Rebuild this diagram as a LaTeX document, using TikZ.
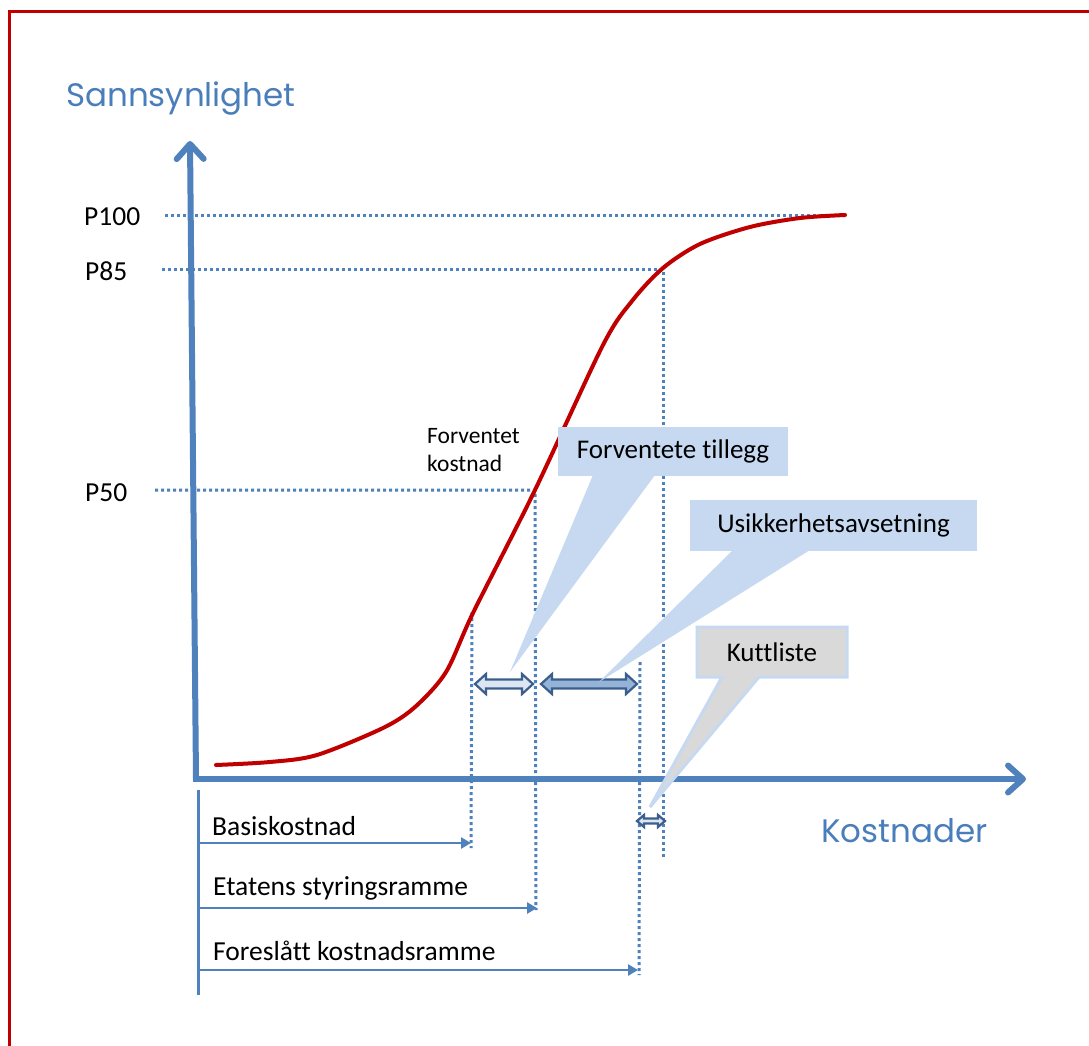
\documentclass[tikz,border=0pt]{standalone}
\usepackage{fontspec}
\setmainfont{Carlito}[Ligatures=NoCommon]
\newfontfamily\geofont{Poppins}
\usetikzlibrary{arrows.meta}
\definecolor{axisblue}{HTML}{4F81BD}
\definecolor{titleblue}{HTML}{4A7EBB}
\definecolor{curvered}{HTML}{C00000}
\definecolor{calloutblue}{HTML}{C6D9F1}
\definecolor{calloutgray}{HTML}{D9D9D9}
\definecolor{arrowedge}{HTML}{3B5E8C}
\definecolor{arrowlight}{HTML}{DCE6F2}
\definecolor{arrowmid}{HTML}{95B3D7}

% horizontal block arrow with heads at both ends:
% x1, x2, y, half head height, half shaft height, head length, fill
\newcommand\dblarrow[7]{%
  \filldraw[draw=arrowedge, line width=2.2pt, line join=miter, fill=#7]
    (#1,#3) -- ({#1+#6},{#3-#4}) -- ({#1+#6},{#3-#5}) -- ({#2-#6},{#3-#5})
    -- ({#2-#6},{#3-#4}) -- (#2,#3) -- ({#2-#6},{#3+#4}) -- ({#2-#6},{#3+#5})
    -- ({#1+#6},{#3+#5}) -- ({#1+#6},{#3+#4}) -- cycle;}

\begin{document}
\begin{tikzpicture}[x=1pt,y=-1pt,
  axisline/.style={draw=axisblue, line width=6pt,
    -{Straight Barb[length=15pt,width=27pt,round]}},
  guide/.style={draw=axisblue, line width=3pt, dash pattern=on 3pt off 3pt},
  spanline/.style={draw=axisblue, line width=2.5pt, -{Triangle[length=10pt,width=11pt]}},
  lbl/.style={inner sep=0pt, font=\fontsize{27.5}{32}\selectfont},
  plbl/.style={lbl, anchor=west},
  callouttext/.style={inner sep=0pt, font=\fontsize{27}{32}\selectfont},
  axistitle/.style={inner sep=0pt, anchor=west, text=titleblue,
    font=\geofont\fontsize{32.5}{38}\selectfont}
]
\useasboundingbox (0,0) rectangle (1089,1046);
\fill[white] (0,0) rectangle (1089,1046);

% frame
\draw[curvered, line width=3.5pt] (9.5,1046) -- (9.5,11.5) -- (1089,11.5);

% axis titles
\node[axistitle] (ytitle) at (66,99) {Sannsynlighet};
\node[axistitle] (xtitle) at (821,831) {Kostnader};

% percentile labels
\node[plbl] (p100) at (84,217) {P100};
\node[plbl] (p85)  at (85,271) {P85};
\node[plbl] (p50)  at (85,493) {P50};

% key points
\coordinate (O) at (196,779);
\coordinate (ytip) at (190,141);
\coordinate (xtip) at (1026,779);
\coordinate (g100a) at (165,215);
\coordinate (g100b) at (845,215);
\coordinate (g85a) at (162,269);
\coordinate (c85) at (663,269);
\coordinate (g85b) at (663,857);
\coordinate (g50a) at (155,490);
\coordinate (c50) at (535,490);
\coordinate (g50b) at (536,910);
\coordinate (cb) at (472,612);
\coordinate (gbb) at (471,848);
\coordinate (cf) at (640,662);
\coordinate (gfb) at (639,975);

% guide lines
\draw[guide] (g100a) -- (g100b);
\draw[guide] (g85a) -- (c85) -- (g85b);
\draw[guide] (g50a) -- (c50) -- (g50b);
\draw[guide] (cb) -- (gbb);
\draw[guide] (cf) -- (gfb);

% cumulative cost curve
\draw[curvered, line width=4pt, line cap=round]
  plot[smooth, tension=0.5] coordinates {
   (216,765) (270,762) (317,755) (383,728) (415,707) (446,672)
   (473,613) (535,490) (603,345) (632,301) (663,268) (700,244)
   (750,227) (800,218) (845,215)};

% axes
\draw[axisline] (O) -- (ytip);
\draw[axisline, shorten <=-3pt] (O) -- (xtip);

% cost ranges below the axis
\coordinate (s0top) at (198,790);
\coordinate (s0bot) at (198,995);
\draw[draw=axisblue, line width=3pt] (s0top) -- (s0bot);
\coordinate (b0) at (198,843);  \coordinate (b1) at (471,843);
\coordinate (e0) at (198,908);  \coordinate (e1) at (537,908);
\coordinate (f0) at (198,970);  \coordinate (f1) at (638,970);
\draw[spanline] (b0) -- (b1);
\draw[spanline] (e0) -- (e1);
\draw[spanline] (f0) -- (f1);
\node[lbl, anchor=west] (basis) at (212,826) {Basiskostnad};
\node[lbl, anchor=west] (etat) at (213,888) {Etatens styringsramme};
\node[lbl, anchor=west] (fores) at (213,951) {Foreslått kostnadsramme};

% expected cost label
\node[inner sep=0pt, anchor=north west, align=left,
      font=\fontsize{23.5}{28}\selectfont] (fk) at (427,428) {Forventet\\kostnad};

% double block arrows
\dblarrow{475}{533}{684}{10}{4.5}{11}{arrowlight}
\dblarrow{541}{637}{684}{10}{4.5}{11}{arrowmid}
\dblarrow{637}{665}{821}{6}{2.5}{7}{arrowlight}

% callouts
\fill[calloutblue] (593,475) -- (655,475) -- (510,672) -- cycle;
\node[callouttext, fill=calloutblue, minimum width=230pt, minimum height=49pt]
  (ft) at (673,451.5) {Forventete tillegg};

\fill[calloutblue] (733,550) -- (810,550) -- (599,682) -- cycle;
\node[callouttext, fill=calloutblue, minimum width=287pt, minimum height=51pt]
  (ua) at (833.5,525.5) {Usikkerhetsavsetning};

\filldraw[draw=calloutblue, fill=calloutgray, line width=3pt, line join=miter]
  (697,627) -- (847,627) -- (847,677) -- (759,677) -- (650,807)
  -- (722,677) -- (697,677) -- cycle;
\node[callouttext] (kl) at (772,652) {Kuttliste};
\end{tikzpicture}
\end{document}
